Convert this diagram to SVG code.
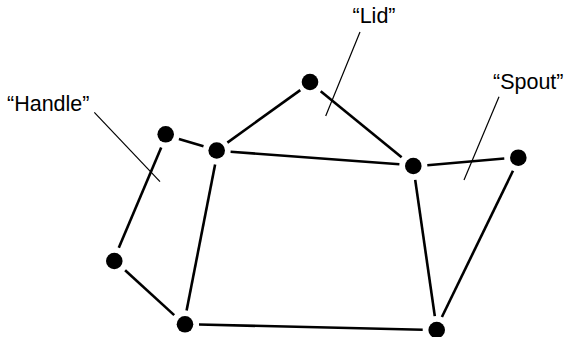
<svg xmlns="http://www.w3.org/2000/svg" width="564" height="337" viewBox="0 0 564 337">
<style>
.node{fill:#000}
.edge{stroke:#000;stroke-width:2.6;fill:none}
.leader{stroke:#000;stroke-width:1.2;fill:none}
.lbl{font-family:"Liberation Sans",Arial,sans-serif;font-size:21.5px;fill:#000}
</style>
<rect width="564" height="337" fill="#fff"/>
<g id="connectors">
<line class="edge" x1="300.3" y1="90.1" x2="227.4" y2="142.6"/>
<line class="edge" x1="320.7" y1="91.2" x2="401.6" y2="157.2"/>
<line class="edge" x1="230.6" y1="151.7" x2="399.4" y2="164.3"/>
<line class="edge" x1="178.9" y1="139.1" x2="203.5" y2="146.3"/>
<line class="edge" x1="161.2" y1="147.6" x2="118.8" y2="247.7"/>
<line class="edge" x1="125.1" y1="270.2" x2="174.2" y2="315.1"/>
<line class="edge" x1="215.1" y1="164.6" x2="186.6" y2="310.4"/>
<line class="edge" x1="199" y1="324.5" x2="422.7" y2="329.8"/>
<line class="edge" x1="415.2" y1="179.9" x2="434.8" y2="316.1"/>
<line class="edge" x1="427.3" y1="165.2" x2="504.3" y2="158.5"/>
<line class="edge" x1="513" y1="170.8" x2="441.9" y2="317"/>
</g>
<g id="leaders">
<line class="leader" x1="360" y1="32" x2="325.7" y2="116"/>
<line class="leader" x1="94.3" y1="112.3" x2="160" y2="181.7"/>
<line class="leader" x1="499" y1="96.7" x2="464" y2="180"/>
</g>
<g id="lid-top"><circle class="node" cx="310" cy="82" r="8.3"/></g>
<g id="body-top-left"><circle class="node" cx="216.7" cy="150.5" r="8.3"/></g>
<g id="handle-top"><circle class="node" cx="165.7" cy="134.3" r="8.3"/></g>
<g id="body-top-right"><circle class="node" cx="413.3" cy="166" r="8.3"/></g>
<g id="spout-tip"><circle class="node" cx="518.3" cy="157.7" r="8.3"/></g>
<g id="handle-bottom"><circle class="node" cx="114.3" cy="261" r="8.3"/></g>
<g id="body-bottom-left"><circle class="node" cx="185" cy="324.3" r="8.3"/></g>
<g id="body-bottom-right"><circle class="node" cx="436.7" cy="330" r="8.3"/></g>
<g id="labels">
<text class="lbl" x="352.5" y="23.3">“Lid”</text>
<text class="lbl" x="7" y="111">“Handle”</text>
<text class="lbl" x="493" y="89">“Spout”</text>
</g>
</svg>
